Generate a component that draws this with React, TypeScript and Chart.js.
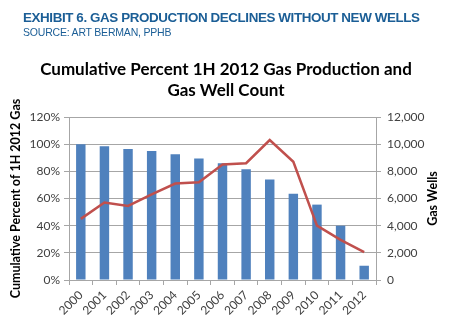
import React, { useEffect, useRef } from "react";
import { Chart, registerables } from "chart.js";

Chart.register(...registerables);

const years = ["2000","2001","2002","2003","2004","2005","2006","2007","2008","2009","2010","2011","2012"];
const cumulativePercent = [100, 98.5, 96.5, 95, 92.5, 89.5, 86, 81.5, 74, 63.5, 55.5, 40, 10.5];
const gasWells = [4500, 5700, 5450, 6300, 7100, 7200, 8500, 8600, 10300, 8700, 4000, 2950, 2050];

const headerTitle = "EXHIBIT 6. GAS PRODUCTION DECLINES WITHOUT NEW WELLS";
const headerSource = "SOURCE: ART BERMAN, PPHB";
const chartTitleLines = ["Cumulative Percent 1H 2012 Gas Production and", "Gas Well Count"];
const leftAxisTitle = "Cumulative Percent of 1H 2012 Gas";
const rightAxisTitle = "Gas Wells";

const rightTitlePlugin = {
  id: "rightTitle",
  afterDraw(chart: any) {
    const { ctx, chartArea } = chart;
    ctx.save();
    ctx.translate(433, (chartArea.top + chartArea.bottom) / 2);
    ctx.rotate(-Math.PI / 2);
    ctx.font = "bold 12.5px Lato";
    ctx.fillStyle = "#000";
    ctx.textAlign = "center";
    ctx.textBaseline = "middle";
    ctx.fillText(rightAxisTitle, 0, 0);
    ctx.restore();
  },
};

export default function App() {
  const ref = useRef<HTMLCanvasElement | null>(null);

  useEffect(() => {
    document.body.style.margin = "0";
    const ctx = ref.current!.getContext("2d")!;
    const chart = new Chart(ctx, {
      data: {
        labels: years,
        datasets: [
          {
            type: "line",
            label: "Gas Wells",
            data: gasWells,
            yAxisID: "y1",
            borderColor: "#c0504d",
            borderWidth: 2.5,
            pointRadius: 0,
            tension: 0,
            order: 0,
          },
          {
            type: "bar",
            label: "Cumulative Percent",
            data: cumulativePercent,
            yAxisID: "y",
            backgroundColor: "#4f81bd",
            barPercentage: 0.8,
            categoryPercentage: 0.5,
            order: 1,
          },
        ],
      },
      plugins: [rightTitlePlugin],
      options: {
        responsive: false,
        animation: false,
        layout: { padding: { top: 117, left: 0, right: 0, bottom: 0 } },
        plugins: {
          legend: { display: false },
          tooltip: { enabled: false },
          title: { display: false },
        },
        scales: {
          x: {
            afterFit: (s: any) => { s.height = 55; },
            grid: { display: true, drawOnChartArea: false, color: "#a6a6a6", tickLength: 5, offset: true },
            border: { color: "#a6a6a6" },
            ticks: {
              color: "#404040",
              font: { family: "Lato", size: 12 },
              maxRotation: 45,
              minRotation: 45,
              autoSkip: false,
              padding: 3,
            },
          },
          y: {
            position: "left",
            min: 0,
            max: 120,
            afterFit: (s: any) => { s.width = 69; },
            ticks: {
              stepSize: 20,
              color: "#404040",
              font: { family: "Lato", size: 12 },
              callback: (v: any) => v + "%",
              padding: 4,
            },
            grid: { color: "#a6a6a6", tickLength: 5 },
            border: { color: "#a6a6a6" },
            title: {
              display: true,
              text: leftAxisTitle,
              color: "#000",
              font: { family: "Lato", size: 12.5, weight: "bold" },
              padding: { top: 8, bottom: 2 },
            },
          },
          y1: {
            position: "right",
            min: 0,
            max: 12000,
            afterFit: (s: any) => { s.width = 74; },
            ticks: {
              stepSize: 2000,
              color: "#404040",
              font: { family: "Lato", size: 12 },
              callback: (v: any) => Number(v).toLocaleString("en-US"),
              padding: 6,
            },
            grid: { drawOnChartArea: false, color: "#a6a6a6", tickLength: 5 },
            border: { color: "#a6a6a6" },
          },
        },
      },
    });
    return () => chart.destroy();
  }, []);

  return (
    <div style={{ position: "relative", width: 450, height: 335, background: "#fff", overflow: "hidden" }}>
      <canvas ref={ref} width={450} height={335} style={{ position: "absolute", left: 0, top: 0 }} />
      <div
        style={{
          position: "absolute",
          left: 23,
          top: 10,
          fontFamily: "'Liberation Sans', Arial, sans-serif",
          fontWeight: "bold",
          fontSize: 13.4,
          letterSpacing: -0.4,
          color: "#1b5e96",
          whiteSpace: "nowrap",
          lineHeight: "16px",
        }}
      >
        {headerTitle}
      </div>
      <div
        style={{
          position: "absolute",
          left: 23,
          top: 26,
          fontFamily: "'Liberation Sans', Arial, sans-serif",
          fontSize: 10.5,
          letterSpacing: -0.2,
          color: "#1b5e96",
          whiteSpace: "nowrap",
          lineHeight: "13px",
        }}
      >
        {headerSource}
      </div>
      <div
        style={{
          position: "absolute",
          left: 0,
          width: 452,
          top: 58,
          textAlign: "center",
          fontFamily: "Lato, sans-serif",
          fontWeight: "bold",
          fontSize: 17,
          color: "#000",
          lineHeight: "21px",
        }}
      >
        {chartTitleLines.map((l) => (
          <div key={l}>{l}</div>
        ))}
      </div>
    </div>
  );
}
